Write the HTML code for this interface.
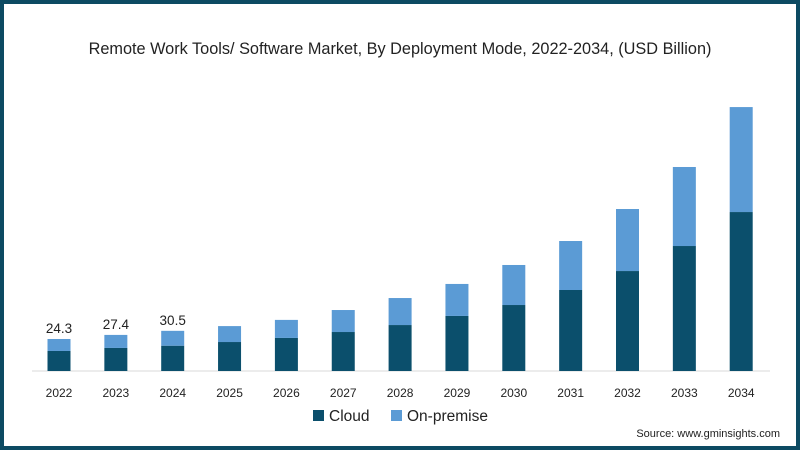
<!DOCTYPE html>
<html><head><meta charset="utf-8"><style>
html,body{margin:0;padding:0;background:#fff}
#wrap{position:relative;width:800px;height:450px;box-sizing:border-box;border:4px solid #0d4a62;background:#fff;font-family:"Liberation Sans",sans-serif;overflow:hidden}
</style></head><body>
<div id="wrap">
<svg id="chart" width="792" height="442" style="position:absolute;left:0;top:0"></svg>
</div>
<script>
const categories=["2022","2023","2024","2025","2026","2027","2028","2029","2030","2031","2032","2033","2034"];
const cloud=[15.2,17.5,19.2,22.0,25.1,29.6,34.9,41.8,50.1,61.5,75.9,94.9,120.7];
const onPremise=[9.1,9.9,11.3,12.1,13.7,16.7,20.5,24.3,30.4,37.2,47.1,60.0,79.7];
const labels=["24.3","27.4","30.5","","","","","","","","","",""];
const NS="http://www.w3.org/2000/svg";
const svg=document.getElementById('chart');
const ox=-4, oy=-4;
const baseY=371, scale=1.317, x0=59, step=56.85, bw=23;
function xPos(i){return x0+i*step+ox;}
function yPos(v){return baseY-v*scale+oy;}
function mk(t,a){const e=document.createElementNS(NS,t);for(const k in a)e.setAttribute(k,a[k]);svg.appendChild(e);return e;}
let t=mk('text',{x:400+ox,y:54+oy,'text-anchor':'middle','font-size':'16.3',fill:'#222'});


t.textContent="Remote Work Tools/ Software Market, By Deployment Mode, 2022-2034, (USD Billion)";
let ax=mk('line',{x1:32+ox,x2:770+ox,y1:baseY+oy,y2:baseY+oy,stroke:'#e6e6e6','stroke-width':1.5});


categories.forEach((c,i)=>{
  const cx=xPos(i);
  const b1=mk('rect',{x:cx-bw/2,y:yPos(cloud[i]),width:bw,height:cloud[i]*scale,fill:'#0b4f6c'});
  
  
  const b2=mk('rect',{x:cx-bw/2,y:yPos(cloud[i]+onPremise[i]),width:bw,height:onPremise[i]*scale,fill:'#5b9bd5'});
  
  
  const tl=mk('text',{x:cx,y:397+oy,'text-anchor':'middle','font-size':'12',fill:'#222'});
  
  
  tl.textContent=c;
  if(labels[i]){
    const vl=mk('text',{x:cx,y:yPos(cloud[i]+onPremise[i])-6,'text-anchor':'middle','font-size':'13.5',fill:'#222'});
    
    
    vl.textContent=labels[i];
  }
});
const lg=[["Cloud","#0b4f6c",313],["On-premise","#5b9bd5",391]];
lg.forEach(l=>{
  const r=mk('rect',{x:l[2]+ox,y:410+oy,width:11,height:11,fill:l[1]});
  
  
  const tx=mk('text',{x:l[2]+16+ox,y:421+oy,'font-size':'15.5',fill:'#222'});
  
  
  tx.textContent=l[0];
});
const s=mk('text',{x:780+ox,y:437+oy,'text-anchor':'end','font-size':'11',fill:'#222'});


s.textContent="Source: www.gminsights.com";
</script>
</body></html>
